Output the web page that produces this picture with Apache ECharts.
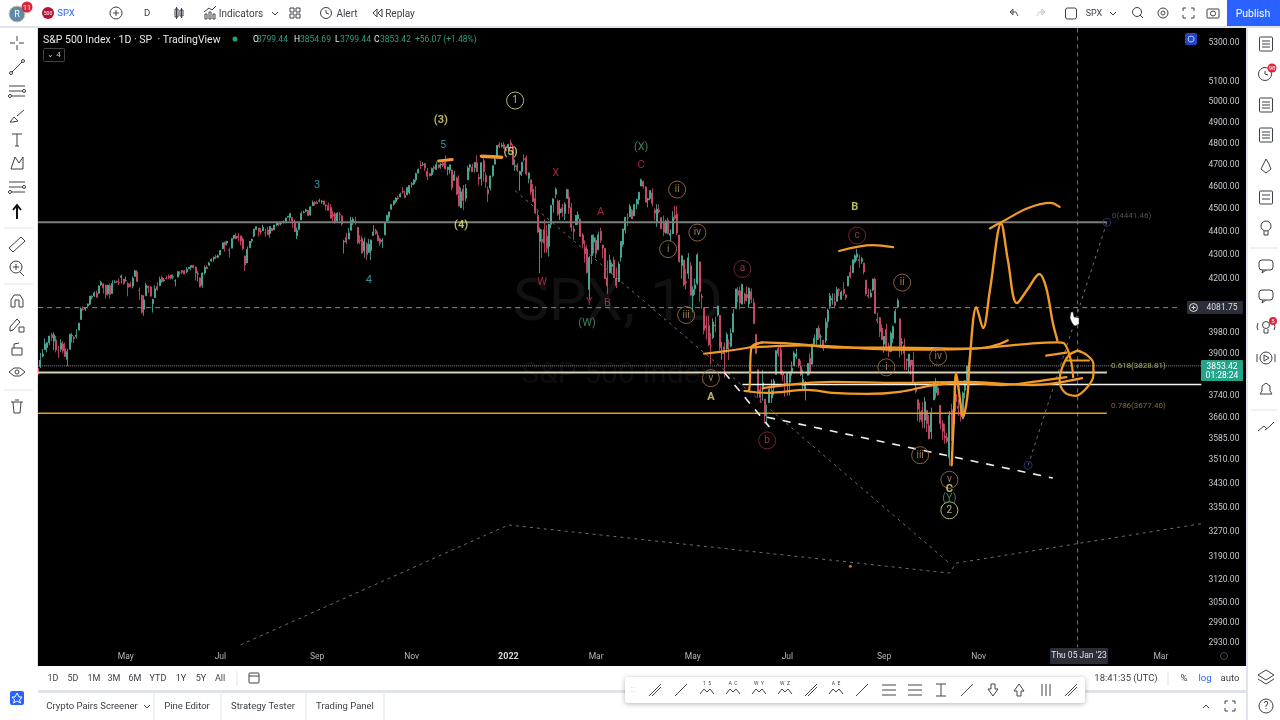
<!DOCTYPE html>
<html>
<head>
<meta charset="utf-8">
<style>html,body{margin:0;padding:0;background:#fff}#chart{width:1280px;height:720px}</style>
<script src="https://cdn.jsdelivr.net/npm/echarts@6/dist/echarts.min.js"></script>
</head>
<body>
<div id="chart"></div>
<script>
// daily bars, each row is open, close, low, high
const mar21 = [[3845,3821,3805,3881],[3851,3875,3845,3903],[3891,3899,3885,3918],[3915,3939,3915,3961],[3924,3943,3905,3944],[3943,3969,3933,3970],[3974,3963,3948,3982],[3949,3974,3914,3984],[3953,3915,3905,3969],[3913,3913,3884,3930],[3917,3941,3907,3957],[3938,3911,3902,3949],[3919,3889,3889,3943],[3879,3909,3853,3919],[3917,3975,3917,3978],[3969,3971,3944,3981],[3963,3959,3941,3969],[3967,3973,3959,3995]];
const apr21 = [[3992,4020,3992,4021],[4034,4077,4034,4083],[4075,4074,4069,4087],[4075,4080,4068,4083],[4089,4097,4084,4098],[4096,4129,4092,4129],[4124,4128,4114,4131],[4130,4142,4125,4148],[4141,4124,4122,4151],[4140,4170,4140,4173],[4175,4185,4170,4192],[4179,4163,4139,4180],[4173,4135,4119,4175],[4138,4173,4131,4176],[4171,4135,4118,4180],[4139,4180,4139,4194],[4186,4187,4181,4194],[4188,4187,4182,4193],[4186,4184,4174,4201],[4206,4211,4181,4218],[4199,4181,4174,4199]];
const may21 = [[4192,4192,4188,4209],[4180,4165,4128,4187],[4178,4168,4165,4188],[4170,4202,4160,4209],[4210,4233,4208,4238],[4229,4189,4188,4237],[4152,4152,4112,4163],[4131,4063,4057,4135],[4075,4113,4049,4132],[4130,4174,4130,4184],[4170,4163,4143,4170],[4166,4128,4127,4170],[4098,4116,4062,4117],[4122,4159,4122,4173],[4168,4156,4150,4186],[4171,4197,4171,4209],[4205,4188,4182,4213],[4192,4195,4188,4203],[4201,4200,4197,4213],[4210,4204,4199,4218]];
const jun21 = [[4216,4202,4197,4216],[4207,4208,4198,4218],[4191,4192,4168,4198],[4207,4229,4206,4233],[4227,4227,4214,4232],[4234,4227,4219,4237],[4233,4220,4219,4237],[4229,4239,4223,4249],[4242,4247,4240,4249],[4248,4255,4235,4255],[4256,4246,4243,4258],[4249,4223,4193,4252],[4220,4221,4188,4232],[4204,4166,4165,4204],[4173,4224,4163,4226],[4224,4247,4217,4255],[4249,4242,4241,4256],[4256,4266,4256,4271],[4274,4281,4272,4286],[4284,4291,4271,4292],[4293,4291,4282,4301],[4290,4297,4286,4302]];
const jul21 = [[4300,4319,4300,4321],[4326,4352,4326,4355],[4356,4343,4314,4356],[4351,4358,4340,4361],[4321,4320,4289,4331],[4329,4369,4329,4372],[4372,4384,4366,4386],[4381,4369,4368,4393],[4380,4374,4359,4393],[4382,4360,4340,4382],[4367,4327,4321,4375],[4296,4258,4233,4296],[4266,4323,4266,4336],[4331,4358,4329,4359],[4361,4367,4351,4369],[4381,4411,4375,4412],[4409,4422,4407,4422],[4416,4401,4379,4416],[4403,4400,4387,4416],[4404,4419,4404,4430],[4395,4395,4378,4413]];
const aug21 = [[4407,4387,4385,4422],[4392,4423,4374,4424],[4415,4403,4403,4416],[4408,4429,4408,4430],[4429,4437,4424,4441],[4437,4432,4424,4439],[4435,4436,4427,4445],[4440,4443,4436,4449],[4446,4460,4437,4461],[4464,4468,4461,4468],[4462,4480,4447,4481],[4462,4448,4417,4462],[4440,4400,4399,4454],[4382,4406,4368,4418],[4410,4442,4407,4444],[4451,4480,4451,4489],[4484,4486,4480,4493],[4490,4496,4486,4501],[4493,4470,4468,4495],[4474,4509,4469,4513],[4514,4529,4514,4538],[4529,4523,4515,4535]];
const sep21 = [[4529,4524,4522,4537],[4534,4537,4529,4546],[4532,4535,4522,4541],[4536,4520,4517,4536],[4518,4514,4493,4521],[4514,4493,4493,4529],[4506,4459,4458,4521],[4475,4469,4445,4492],[4479,4443,4435,4486],[4447,4481,4444,4486],[4477,4474,4447,4486],[4470,4433,4427,4471],[4355,4358,4306,4365],[4375,4355,4347,4394],[4368,4395,4367,4416],[4406,4449,4406,4466],[4439,4455,4429,4463],[4443,4443,4430,4465],[4419,4353,4346,4419],[4362,4360,4346,4385],[4370,4308,4307,4382]];
const oct21 = [[4317,4357,4288,4375],[4348,4301,4279,4355],[4310,4346,4310,4369],[4319,4364,4278,4366],[4383,4399,4383,4429],[4406,4391,4387,4413],[4385,4361,4359,4401],[4368,4350,4338,4374],[4358,4364,4329,4373],[4386,4438,4386,4440],[4447,4471,4447,4475],[4463,4487,4447,4488],[4498,4520,4498,4520],[4520,4537,4515,4537],[4533,4549,4525,4552],[4549,4545,4541,4560],[4553,4567,4552,4573],[4579,4575,4569,4598],[4562,4551,4548,4582],[4563,4596,4562,4597],[4573,4605,4565,4608]];
const nov21 = [[4610,4614,4596,4621],[4613,4631,4608,4635],[4630,4660,4620,4664],[4662,4680,4662,4683],[4699,4697,4681,4718],[4701,4702,4694,4714],[4707,4685,4672,4708],[4670,4647,4630,4685],[4659,4650,4648,4664],[4655,4683,4648,4688],[4689,4683,4665,4697],[4679,4701,4679,4715],[4701,4688,4684,4702],[4700,4704,4682,4708],[4708,4698,4690,4717],[4712,4682,4680,4744],[4679,4690,4652,4691],[4675,4701,4659,4702],[4677,4595,4585,4677],[4628,4655,4628,4672],[4640,4567,4561,4646]];
const dec21 = [[4602,4513,4511,4652],[4505,4577,4505,4596],[4589,4538,4495,4608],[4548,4592,4533,4612],[4631,4686,4631,4695],[4690,4701,4670,4705],[4691,4668,4667,4706],[4688,4712,4665,4713],[4710,4669,4667,4744],[4642,4635,4608,4660],[4636,4710,4606,4713],[4719,4669,4623,4731],[4652,4621,4595,4666],[4587,4568,4531,4601],[4594,4649,4583,4651],[4650,4697,4645,4697],[4703,4726,4703,4741],[4733,4791,4733,4792],[4795,4786,4778,4807],[4788,4793,4781,4804],[4795,4778,4776,4808],[4775,4766,4766,4786]];
const jan22 = [[4779,4797,4755,4797],[4804,4793,4776,4819],[4787,4701,4699,4797],[4693,4696,4672,4725],[4698,4677,4667,4708],[4656,4670,4582,4673],[4670,4713,4649,4714],[4729,4726,4715,4749],[4734,4659,4652,4745],[4638,4663,4615,4666],[4632,4577,4564,4632],[4589,4533,4531,4612],[4547,4483,4477,4602],[4471,4398,4395,4494],[4357,4410,4223,4418],[4367,4357,4287,4411],[4409,4350,4309,4454],[4380,4327,4309,4429],[4337,4432,4293,4432],[4432,4516,4415,4516]];
const feb22 = [[4519,4546,4484,4546],[4566,4589,4548,4596],[4535,4477,4470,4542],[4482,4500,4451,4540],[4505,4484,4466,4522],[4480,4521,4451,4531],[4547,4587,4547,4590],[4553,4504,4478,4588],[4506,4419,4401,4527],[4412,4401,4365,4426],[4430,4472,4430,4473],[4456,4475,4429,4490],[4456,4380,4377,4456],[4385,4349,4327,4395],[4332,4305,4268,4363],[4325,4226,4222,4342],[4156,4289,4114,4295],[4298,4385,4262,4385],[4355,4374,4307,4388]];
const mar22 = [[4363,4306,4287,4375],[4322,4387,4322,4401],[4401,4363,4351,4417],[4343,4329,4285,4343],[4328,4201,4199,4329],[4203,4171,4138,4277],[4224,4278,4224,4300],[4252,4260,4223,4268],[4279,4204,4203,4292],[4203,4173,4161,4247],[4188,4262,4188,4272],[4289,4358,4272,4358],[4345,4412,4335,4412],[4407,4463,4392,4465],[4462,4461,4425,4481],[4465,4512,4465,4522],[4494,4456,4456,4500],[4469,4520,4469,4520],[4522,4543,4499,4546],[4541,4575,4518,4576],[4603,4632,4603,4637],[4624,4602,4590,4628],[4599,4530,4530,4603]];
const apr22 = [[4540,4546,4507,4549],[4547,4583,4539,4583],[4572,4525,4513,4593],[4494,4481,4450,4503],[4446,4500,4421,4521],[4494,4488,4481,4520],[4462,4413,4411,4464],[4437,4397,4381,4471],[4394,4447,4392,4453],[4449,4392,4388,4461],[4385,4392,4359,4410],[4391,4462,4390,4490],[4472,4459,4451,4513],[4478,4394,4385,4513],[4385,4272,4267,4386],[4255,4296,4200,4299],[4279,4175,4169,4279],[4187,4183,4156,4240],[4222,4288,4200,4308],[4254,4132,4132,4270]];
const may22 = [[4130,4155,4063,4169],[4159,4175,4134,4200],[4181,4300,4174,4308],[4271,4147,4106,4271],[4128,4123,4077,4140],[4081,3991,3975,4081],[4010,4001,3955,4049],[4011,3935,3929,4050],[3930,3930,3859,3981],[3963,4024,3957,4039],[4013,4008,3983,4046],[4052,4088,4046,4090],[4051,3923,3912,4051],[3900,3901,3877,3946],[3927,3901,3810,3944],[3919,3974,3903,3982],[3942,3941,3875,3956],[3929,3979,3925,3999],[3984,4058,3984,4076],[4077,4158,4077,4158],[4151,4132,4104,4166]];
const jun22 = [[4150,4101,4074,4167],[4096,4177,4095,4177],[4137,4109,4096,4143],[4135,4121,4107,4169],[4097,4161,4080,4165],[4147,4116,4100,4160],[4102,4018,4018,4119],[3975,3901,3901,3975],[3839,3750,3734,3839],[3764,3735,3715,3778],[3765,3790,3723,3838],[3729,3667,3640,3729],[3675,3675,3637,3708],[3716,3765,3716,3780],[3733,3760,3715,3802],[3774,3796,3743,3805],[3821,3912,3821,3914],[3920,3900,3889,3928],[3913,3821,3820,3945],[3825,3819,3797,3837],[3786,3785,3738,3818]];
const jul22 = [[3781,3825,3742,3829],[3792,3831,3742,3832],[3831,3845,3816,3870],[3854,3903,3854,3910],[3889,3899,3880,3919],[3880,3855,3846,3880],[3851,3819,3815,3874],[3779,3802,3759,3839],[3764,3790,3724,3796],[3818,3863,3818,3863],[3883,3831,3819,3902],[3860,3937,3860,3939],[3936,3960,3930,3975],[3955,3999,3935,3999],[3999,3962,3953,4012],[3966,3967,3928,3976],[3953,3921,3911,3953],[3951,4024,3941,4040],[4026,4072,4000,4078],[4087,4130,4076,4141]];
const aug22 = [[4113,4119,4093,4141],[4105,4091,4080,4140],[4107,4155,4107,4167],[4155,4152,4128,4161],[4115,4145,4115,4152],[4156,4140,4130,4186],[4133,4122,4112,4137],[4170,4210,4170,4211],[4227,4208,4201,4257],[4225,4280,4225,4280],[4270,4297,4264,4302],[4290,4305,4276,4326],[4281,4275,4246,4302],[4273,4284,4262,4292],[4266,4228,4218,4266],[4195,4138,4130,4195],[4133,4128,4120,4160],[4126,4141,4122,4156],[4154,4199,4149,4200],[4198,4058,4057,4204],[4035,4030,4018,4062],[4041,3986,3965,4044],[4000,3955,3953,4015]];
const sep22 = [[3937,3967,3904,3970],[3994,3924,3908,4018],[3931,3908,3887,3943],[3909,3980,3906,3987],[3959,4006,3942,4010],[4022,4067,4018,4076],[4084,4110,4084,4119],[4037,3932,3885,4037],[3941,3946,3896,3961],[3932,3901,3838,3959],[3880,3873,3838,3880],[3849,3899,3828,3900],[3876,3856,3820,3876],[3875,3790,3789,3908],[3773,3757,3750,3790],[3727,3693,3648,3727],[3682,3655,3644,3716],[3686,3647,3623,3717],[3652,3719,3623,3737],[3688,3640,3610,3688],[3633,3586,3584,3671]];
const oct22 = [[3610,3679,3584,3698],[3726,3791,3726,3791],[3753,3783,3732,3807],[3771,3745,3742,3797],[3706,3640,3620,3706],[3640,3612,3582,3652],[3595,3589,3568,3640],[3590,3577,3570,3607],[3520,3669,3492,3685],[3690,3583,3578,3712],[3638,3677,3638,3686],[3746,3720,3686,3762],[3703,3695,3668,3728],[3689,3666,3647,3715],[3657,3752,3657,3757],[3762,3797,3732,3799],[3799,3853,3799,3855]];

// axes
const priceTicks = [5300,5100,5000,4900,4800,4700,4600,4500,4400,4300,4200,3980,3900,3740,3660,3585,3510,3430,3350,3270,3190,3120,3050,2990,2930];
const timeSlots = [39,81,124,166,209,248,291,333,376,418,499];
const timeNames = ['May','Jul','Sep','Nov','2022','Mar','May','Jul','Sep','Nov','Mar'];
const slotCount = 518;

// levels, as [bar, price]
const fibTop = [[0,4441.46],[475,4441.46]];
const fib618 = [[0,3828.81],[475,3828.81]];
const fib786 = [[0,3677.4],[475,3677.4]];
const lastPrice = [[0,3853.42],[517,3853.42]];
const whiteLevel = [[313,3783],[517,3783]];
const crossPrice = [[0,4081.75],[508,4081.75]];
const crossDate = [[462,5379],[462,2918]];
const thinTrend = [[212,4582],[405,3171]];
const thinChannel = [[90,2925],[209,3293],[405,3140],[408,3171],[517,3297]];
const fibLeg = [[440,3493],[475,4441]];
const whiteDashA = [[305,3828],[325,3628]];
const whiteDashB = [[324,3663],[451,3449]];
const fibAnchors = [[475,4441],[440,3493]];
const redDot = [[361,3161]];

// orange pen strokes, as [bar, price]
const penUpper = [[296,3900],[316,3924],[322,3944],[339,3936],[354,3924],[383,3924],[412,3920],[421,3924],[428,3940],[431,3952]];
const penUpper2 = [[317,3924],[340,3932],[383,3916],[416,3920],[442,3940],[453,3944],[456,3940],[459,3874],[460,3811]];
const penBoxLeft = [[322,3944],[317,3924],[316,3763],[314,3759]];
const penLower = [[314,3759],[324,3752],[342,3763],[353,3752],[368,3748],[383,3756],[398,3781],[413,3789],[428,3781],[442,3793],[457,3811]];
const penLower2 = [[322,3770],[353,3793],[383,3789],[413,3793],[442,3781],[464,3807]];
const penWave = [[406,3493],[407,3662],[408,3826],[410,3710],[411,3663],[413,3740],[414,3874],[417,4084],[420,4000],[423,4152],[428,4436],[431,4278],[435,4100],[440,4160],[445,4220],[448,4164],[451,4020],[453,3952]];
const penTop = [[423,4414],[428,4441],[440,4504],[450,4527],[454,4509]];
const penPeak = [[356,4317],[371,4342],[380,4333]];
const penCircle = [[462,3912],[466,3896],[469,3863],[469,3818],[466,3770],[461,3741],[456,3756],[454,3800],[455,3844],[458,3893],[462,3912]];
const penTickA = [[448,3893],[457,3904]];
const penTickB = [[457,3874],[467,3874]];
const penHighA = [[178,4718],[184,4725]];
const penHighB = [[197,4741],[206,4736]];

// wave labels, as [bar, price, text]
const wavesYellow = [[179,4911,'(3)'],[188,4426,'(4)'],[210,4757,'(5)'],[363,4509,'B'],[299,3736,'A'],[405,3412,'C']];
const wavesCyan = [[124,4605,'3'],[147,4192,'4'],[180,4790,'5']];
const wavesRed = [[230,4662,'X'],[250,4487,'A'],[224,4184,'W'],[245,4104,'Y'],[253,4100,'B'],[268,4700,'C']];
const wavesGreen = [[268,4782,'(X)'],[244,4020,'(W)'],[405,3381,'(Y)']];
const circledBrown = [[284,4587,'ii'],[293,4396,'iv'],[280,4325,'i'],[288,4052,'iii'],[299,3807,'v'],[400,3889,'iv'],[377,3848,'i'],[384,4184,'ii'],[392,3528,'iii'],[405,3443,'v']];
const circledRed = [[313,4241,'a'],[324,3580,'b'],[364,4383,'c']];
const circledMajor = [[212,5009,'1'],[405,3341,'2']];
const fibGrey = [[486,4470,'0(4441.46)']];
const fibYellow = [[489,3853,'0.618(3828.81)']];
const fibBrown = [[489,3703,'0.786(3677.40)']];

const topLeftIcons = [43,67,91,116,140,163,187,212,245,268,301,325,349,372,406];
const rightIcons = [44,74,105,135,166,197,228,266,296,327,358,389,427];
const rangeNames = [['1D',53],['5D',73],['1M',94],['3M',114],['6M',135],['YTD',158],['1Y',181],['5Y',201],['All',220]];
const drawSlots = [655,681,707,733,759,785,811,836,862,889,915,941,967,993,1019,1045,1071];
const drawTags = {707:'1  5',733:'A  C',759:'W  Y',785:'W  Z',836:'A  E'};

const FONT = 'Roboto, "Liberation Sans", sans-serif';
const INK = '#3c4048';
const ORANGE = '#f29a26';

var chart = echarts.init(document.getElementById('chart'), null, { renderer: 'canvas' });

var bars = [].concat(mar21, apr21, may21, jun21, jul21, aug21, sep21, oct21, nov21, dec21, jan22, feb22, mar22, apr22, may22, jun22, jul22, aug22, sep22, oct22);
var categories = [];
for (var i = 0; i < slotCount; i++) categories.push('');
timeSlots.forEach(function (s, k) { categories[s] = timeNames[k]; });

function level(data, color, width, type, z) {
  return {
    type: 'line', data: data, symbol: 'none', silent: true, z: z || 3, animation: false,
    lineStyle: { color: color, width: width, type: type || 'solid' }
  };
}
function pen(data, width) {
  var s = level(data, ORANGE, width || 2.2, 'solid', 6);
  s.smooth = 0.35;
  s.lineStyle.cap = 'round';
  return s;
}
function tags(data, color, size, ring, weight) {
  return {
    type: 'scatter', data: data, symbol: 'circle', symbolSize: ring ? 17 : 1, silent: true, z: 7, animation: false,
    itemStyle: { color: 'rgba(0,0,0,0)', borderColor: ring || 'rgba(0,0,0,0)', borderWidth: ring ? 1 : 0 },
    label: {
      show: true, position: 'inside', color: color, fontSize: size, fontFamily: FONT, fontWeight: weight || 'normal',
      formatter: function (p) { return p.value[2]; }
    }
  };
}

// chrome helpers
var ui = [];
function box(x, y, w, h, fill, stroke, r, z) {
  ui.push({ type: 'rect', z: z || 100, silent: true, shape: { x: x, y: y, width: w, height: h, r: r || 0 },
    style: { fill: fill || 'none', stroke: stroke || 'none', lineWidth: 1 } });
}
function dot(x, y, r, fill, stroke, z) {
  ui.push({ type: 'circle', z: z || 110, silent: true, shape: { cx: x, cy: y, r: r },
    style: { fill: fill || 'none', stroke: stroke || 'none', lineWidth: 1 } });
}
function pl(points, color, w, z) {
  ui.push({ type: 'polyline', z: z || 110, silent: true, shape: { points: points },
    style: { fill: 'none', stroke: color || INK, lineWidth: w || 1 } });
}
function tx(x, y, s, color, size, align, z, weight) {
  ui.push({ type: 'text', x: x, y: y + 1, z: z || 111, silent: true,
    style: { text: s, fill: color || INK, font: (weight || 'normal') + ' ' + (size || 10) + 'px ' + FONT,
      textAlign: align || 'center', textVerticalAlign: 'middle', align: align || 'center', verticalAlign: 'middle' } });
}
function chevron(x, y, up) { pl([[x - 3, y + (up ? 2 : -1)], [x, y + (up ? -1 : 2)], [x + 3, y + (up ? 2 : -1)]]); }

// panels
box(38, 28, 1208, 638, '#000', null, 0, -10);
box(0, 0, 1280, 26, '#fff');
box(0, 26, 1280, 2, '#e0e3eb');
box(0, 28, 37, 692, '#fff');
box(37, 28, 1, 638, '#e0e3eb');
box(1246, 28, 34, 692, '#fff');
box(1246, 28, 2, 692, '#e0e3eb');
box(38, 666, 1208, 24, '#fff');
box(38, 690, 1208, 3, '#e0e3eb');
box(38, 693, 1208, 27, '#fff');

// top bar
dot(17, 14, 8, '#5f8aa8', '#d9c9a0');
tx(17, 14, 'R', '#fff', 9);
dot(27, 7, 5.5, '#d8243c');
tx(27, 7, '11', '#fff', 7);
dot(48, 13, 6, '#b5123a');
tx(48, 13, '500', '#fff', 5);
tx(66, 13, 'SPX', '#2962ff', 9.5);
dot(116, 13, 6, null, INK);
pl([[113, 13], [119, 13]]); pl([[116, 10], [116, 16]]);
tx(147, 13, 'D', INK, 9.5);
box(175, 9, 3, 8, null, INK); box(180, 10, 3, 6, null, INK);
pl([[176.5, 7], [176.5, 19]]); pl([[181.5, 8], [181.5, 18]]);
box(205, 14, 2, 5, null, INK); box(209, 12, 2, 7, null, INK); box(213, 14, 2, 5, null, INK);
pl([[204, 12], [209, 8], [212, 10], [216, 6]]);
tx(241, 13, 'Indicators', INK, 10);
chevron(275, 13);
box(290, 8, 4, 4, null, INK); box(296, 8, 4, 4, null, INK); box(290, 14, 4, 4, null, INK); box(296, 14, 4, 4, null, INK);
dot(326, 13, 5.5, null, INK); pl([[326, 10], [326, 13], [329, 14]]);
tx(347, 13, 'Alert', INK, 10);
pl([[377, 9], [373, 13], [377, 17], [377, 9]]); pl([[382, 9], [378, 13], [382, 17], [382, 9]]);
tx(400, 13, 'Replay', INK, 10);
pl([[1010, 12], [1013, 9], [1013, 15], [1010, 12], [1016, 12], [1018, 16]], '#555');
pl([[1045, 12], [1042, 9], [1042, 15], [1045, 12], [1039, 12], [1037, 16]], '#c6c8ce');
box(1065.5, 8, 11, 11, null, INK, 2);
tx(1094, 13, 'SPX', INK, 9);
chevron(1113, 13);
dot(1137, 12, 4.5, null, INK); pl([[1140, 15], [1143, 18]]);
dot(1163, 13, 5, null, INK); dot(1163, 13, 2, null, INK);
pl([[1183, 11], [1183, 8], [1186, 8]]); pl([[1191, 8], [1194, 8], [1194, 11]]);
pl([[1183, 15], [1183, 18], [1186, 18]]); pl([[1191, 18], [1194, 18], [1194, 15]]);
box(1207, 9, 12, 9, null, INK, 1); dot(1213, 13.5, 2.5, null, INK);
box(1227, 0, 53, 26, '#2962ff');
tx(1253, 13, 'Publish', '#fff', 10.5);

// left tools
topLeftIcons.forEach(function (y, k) {
  var x = 17;
  if (k === 0) { pl([[x - 7, y], [x - 2, y]]); pl([[x + 2, y], [x + 7, y]]); pl([[x, y - 7], [x, y - 2]]); pl([[x, y + 2], [x, y + 7]]); }
  if (k === 1) { pl([[x - 6, y + 6], [x + 6, y - 6]]); dot(x - 6, y + 6, 1.5, '#fff', INK); dot(x + 6, y - 6, 1.5, '#fff', INK); }
  if (k === 2 || k === 6) { [-5, 0, 5].forEach(function (d) { pl([[x - 8, y + d], [x + 8, y + d]]); }); dot(x + 7, y, 1.5, '#fff', INK); dot(x - 7, y + 5, 1.5, '#fff', INK); }
  if (k === 3) { pl([[x - 7, y + 6], [x - 3, y + 1], [x + 1, y + 5], [x - 4, y + 6], [x - 7, y + 6]]); pl([[x, y], [x + 7, y - 6]]); }
  if (k === 4) { pl([[x - 5, y - 6], [x + 5, y - 6]]); pl([[x, y - 6], [x, y + 6]]); pl([[x - 2, y + 6], [x + 2, y + 6]]); }
  if (k === 5) { pl([[x - 6, y + 6], [x - 2, y - 6], [x + 2, y], [x + 6, y - 6], [x + 6, y + 6], [x - 6, y + 6]]); }
  if (k === 7) { pl([[x, y + 7], [x, y - 6]], '#111', 2); pl([[x - 4, y - 2], [x, y - 7], [x + 4, y - 2]], '#111', 2); }
  if (k === 8) { pl([[x - 8, y + 3], [x + 4, y - 8], [x + 8, y - 4], [x - 4, y + 7], [x - 8, y + 3]]); }
  if (k === 9) { dot(x - 1, y - 1, 6, null, INK); pl([[x - 4, y - 1], [x + 2, y - 1]]); pl([[x - 1, y - 4], [x - 1, y + 2]]); pl([[x + 3, y + 4], [x + 7, y + 8]]); }
  if (k === 10) { pl([[x - 6, y + 6], [x - 6, y - 1], [x - 3, y - 6], [x + 3, y - 6], [x + 6, y - 1], [x + 6, y + 6], [x + 2, y + 6], [x + 2, y - 1], [x - 2, y - 1], [x - 2, y + 6], [x - 6, y + 6]]); }
  if (k === 11) { pl([[x - 7, y + 6], [x - 7, y + 2], [x, y - 6], [x + 3, y - 3], [x - 4, y + 5], [x - 7, y + 6]]); box(x + 2, y + 2, 5, 5, null, INK, 0, 110); }
  if (k === 12) { box(x - 5, y - 1, 10, 7, null, INK, 0, 110); pl([[x - 3, y - 1], [x - 3, y - 5], [x + 2, y - 6]]); }
  if (k === 13) { pl([[x - 8, y], [x - 3, y - 4], [x + 3, y - 4], [x + 8, y], [x + 3, y + 4], [x - 3, y + 4], [x - 8, y]]); dot(x, y, 2, null, INK); }
  if (k === 14) { pl([[x - 6, y - 4], [x + 6, y - 4]]); pl([[x - 4, y - 4], [x - 3, y + 7], [x + 3, y + 7], [x + 4, y - 4]]); pl([[x - 2, y - 6], [x + 2, y - 6]]); }
});
[228, 284, 390].forEach(function (y) { pl([[4, y], [33, y]], '#e0e3eb'); });
box(10, 691, 14, 14, '#2962ff', null, 2, 105);
pl([[17, 693], [19, 697], [22, 697], [19.5, 700], [20.5, 703], [17, 701], [13.5, 703], [14.5, 700], [12, 697], [15, 697], [17, 693]], '#fff');

// right tools
rightIcons.forEach(function (y, k) {
  var x = 1266;
  if (k === 0 || k === 2 || k === 3) {
    box(x - 6.5, y - 7, 13, 14, null, INK, 1, 110);
    [-3, 0, 3].forEach(function (d) { pl([[x - 4, y + d], [x + 4, y + d]]); });
  }
  if (k === 1) { dot(x - 1, y, 6.5, null, INK); pl([[x - 1, y - 3], [x - 1, y], [x + 2, y + 1]]); dot(x + 6, y - 6, 4.5, '#e0243e'); tx(x + 6, y - 7, '98', '#fff', 6); }
  if (k === 4) { pl([[x - 5, y + 3], [x - 2, y - 3], [x, y - 7], [x + 3, y - 2], [x + 5, y + 3], [x, y + 7], [x - 5, y + 3]]); }
  if (k === 5) { box(x - 6.5, y - 6, 13, 13, null, INK, 1, 110); [-2, 2].forEach(function (d) { pl([[x - 4, y + d], [x + 4, y + d]], INK, 1); }); }
  if (k === 6) { dot(x, y - 2, 5, null, INK); pl([[x - 2, y + 3], [x - 2, y + 7], [x + 2, y + 7], [x + 2, y + 3]]); }
  if (k === 7 || k === 8) { box(x - 7, y - 6, 14, 10, null, INK, 3, 110); pl([[x - 3, y + 4], [x - 4, y + 7], [x, y + 4]]); }
  if (k === 9) { dot(x, y - 2, 3.5, null, INK); pl([[x - 2, y + 2], [x - 2, y + 6], [x + 2, y + 6], [x + 2, y + 2]]); pl([[x - 8, y - 4], [x - 9, y], [x - 8, y + 3]]); pl([[x + 8, y - 4], [x + 9, y], [x + 8, y + 3]]); dot(x + 7, y - 6, 4, '#e0243e'); tx(x + 7, y - 7, '5', '#fff', 6); }
  if (k === 10) { dot(x, y, 6, null, INK); pl([[x - 2, y - 3], [x + 3, y], [x - 2, y + 3], [x - 2, y - 3]]); pl([[x - 9, y - 4], [x - 9, y + 4]]); pl([[x + 9, y - 4], [x + 9, y + 4]]); }
  if (k === 11) { pl([[x - 6, y + 5], [x - 4, y + 2], [x - 4, y - 3], [x, y - 6], [x + 4, y - 3], [x + 4, y + 2], [x + 6, y + 5], [x - 6, y + 5]]); }
  if (k === 12) { pl([[x - 8, y + 4], [x - 2, y - 1], [x + 1, y + 2]]); pl([[x - 1, y + 3], [x + 3, y], [x + 8, y - 5]]); }
});
[248, 410].forEach(function (y) { pl([[1250, y], [1278, y]], '#e0e3eb'); });
pl([[1258, 675], [1266, 670], [1274, 675], [1266, 680], [1258, 675]]);
pl([[1258, 679], [1266, 684], [1274, 679]]);
dot(1266, 706, 7, null, INK);
tx(1266, 705, '?', INK, 10);

// range row and tabs
rangeNames.forEach(function (r) { tx(r[1], 677.5, r[0], INK, 9); });
pl([[237, 671], [237, 686]], '#e0e3eb');
box(249, 673, 10, 10, null, INK, 1, 110);
pl([[249, 676], [259, 676]]);
tx(92, 706, 'Crypto Pairs Screener', INK, 9.5);
chevron(147, 706);
tx(187, 706, 'Pine Editor', INK, 9.5);
tx(263, 706, 'Strategy Tester', INK, 9.5);
tx(345, 706, 'Trading Panel', INK, 9.5);
[154, 221, 306, 384].forEach(function (x) { pl([[x, 694], [x, 720]], '#e0e3eb'); });
tx(1126, 678, '18:41:35 (UTC)', INK, 9.5);
pl([[1168, 671], [1168, 686]], '#e0e3eb');
tx(1184, 678, '%', INK, 9.5);
tx(1205, 678, 'log', '#2962ff', 9.5);
tx(1230, 678, 'auto', INK, 9.5);
chevron(1206, 706, true);
pl([[1225, 704], [1225, 701], [1228, 701]]); pl([[1232, 701], [1235, 701], [1235, 704]]);
pl([[1225, 708], [1225, 711], [1228, 711]]); pl([[1232, 711], [1235, 711], [1235, 708]]);

// floating drawing bar
ui.push({ type: 'rect', z: 120, silent: true, shape: { x: 625, y: 677, width: 460, height: 26, r: 3 },
  style: { fill: '#fff', shadowBlur: 5, shadowColor: 'rgba(0,0,0,0.3)', shadowOffsetY: 1 } });
tx(633, 689, '::', '#c5c7cd', 9, 'center', 121);
drawSlots.forEach(function (x, k) {
  var y = 690, c = '#444';
  if (drawTags[x]) {
    pl([[x - 7, y + 4], [x - 3, y - 1], [x, y + 2], [x + 3, y - 1], [x + 7, y + 4]], c, 1, 121);
    tx(x, y - 7, drawTags[x], c, 5, 'center', 121);
  } else if (k === 9 || k === 10) {
    [-5, 0, 5].forEach(function (d) { pl([[x - 7, y + d], [x + 7, y + d]], c, 1, 121); });
  } else if (k === 14 || k === 13) {
    var s = k === 14 ? -1 : 1;
    pl([[x - 5, y - 1 * s], [x - 2, y - 1 * s], [x - 2, y - 6 * s], [x + 2, y - 6 * s], [x + 2, y - 1 * s], [x + 5, y - 1 * s], [x, y + 6 * s], [x - 5, y - 1 * s]], c, 1, 121);
  } else if (k === 15) {
    [-3, 1, 5].forEach(function (d) { pl([[x + d, y - 6], [x + d, y + 6]], c, 1, 121); });
  } else if (k === 11) {
    pl([[x - 5, y - 6], [x + 5, y - 6]], c, 1, 121); pl([[x - 5, y + 6], [x + 5, y + 6]], c, 1, 121); pl([[x, y - 6], [x, y + 6]], c, 1, 121);
  } else {
    pl([[x - 6, y + 6], [x + 6, y - 6]], c, 1, 121);
    if (k === 0 || k === 6 || k === 16) pl([[x - 3, y + 6], [x + 6, y - 3]], c, 1, 121);
  }
});

// chart header and tags inside the black pane
tx(43, 39, 'S&P 500 Index · 1D · SP  · TradingView', '#e8e8e8', 10.5, 'left', 20);
dot(235, 39, 2.5, '#1fa37c', null, 20);
[['O', 253], ['3799.44', 257], ['H', 294], ['3854.69', 300], ['L', 335], ['3799.44', 340], ['C', 374], ['3853.42', 380]].forEach(function (p, k) {
  tx(p[1], 39, p[0], k % 2 ? '#2f9e83' : '#e8e8e8', 8.5, 'left', 20);
});
tx(415, 39, '+56.07 (+1.48%)', '#2f9e83', 8.5, 'left', 20);
box(43.5, 48.5, 21, 13, null, '#444', 1, 20);
tx(54, 54, '⌄ 4', '#ccc', 8, 'center', 20);
box(1185, 33, 12, 12, '#2445c8', null, 2, 20);
dot(1191, 39, 3, null, '#b9c6f5', 21);
box(1187, 301, 56, 13, '#2a2e39', null, 1, 20);
dot(1193.5, 307.5, 4, null, '#ddd', 21);
pl([[1191.5, 307.5], [1195.5, 307.5]], '#ddd', 1, 21);
pl([[1193.5, 305.5], [1193.5, 309.5]], '#ddd', 1, 21);
tx(1222, 307, '4081.75', '#ddd', 8.5, 'center', 21);
box(1201, 360, 42, 21, '#23a58c', null, 1, 20);
tx(1222, 365.5, '3853.42', '#fff', 8.5, 'center', 21);
tx(1222, 374.5, '01:28:24', '#fff', 8.5, 'center', 21);
box(1050, 648, 58, 16, '#2a2e39', null, 1, 20);
tx(1079, 655, "Thu 05 Jan '23", '#e0e0e0', 8.5, 'center', 21);
dot(1224, 656, 3.5, null, '#4a4e58', 20);
ui.push({ type: 'polygon', z: 30, silent: true,
  shape: { points: [[1071, 312], [1073, 312], [1074, 317], [1079, 318], [1079, 324], [1075, 326], [1072, 323], [1070, 318]] },
  style: { fill: '#fff', stroke: '#333', lineWidth: 0.5 } });
tx(618, 304, 'SPX, 1D', '#111', 60, 'center', -5);
tx(618, 374, 'S&P 500 Index', '#0d0d0d', 30, 'center', -5);

var option = {
  backgroundColor: '#fff',
  animation: false,
  grid: { left: 37, top: 28.4, width: 1165.5, height: 619, containLabel: false },
  xAxis: {
    type: 'category', data: categories, boundaryGap: true,
    axisLine: { show: false }, axisTick: { show: false }, splitLine: { show: false },
    axisLabel: {
      interval: function (idx) { return categories[idx] !== ''; },
      hideOverlap: false, margin: 5, color: '#b2b5be', fontSize: 8.5, fontFamily: FONT,
      formatter: function (v) { return v === '2022' ? '{b|2022}' : v; },
      rich: { b: { color: '#d8dae0', fontSize: 9, fontWeight: 'bold', fontFamily: FONT } }
    }
  },
  yAxis: {
    type: 'log', position: 'right', min: 2917.6, max: 5379, logBase: 10, scale: true,
    axisLine: { show: false }, axisTick: { show: false }, splitLine: { show: false }, minorTick: { show: false },
    axisLabel: {
      customValues: priceTicks, margin: 6, color: '#c8cad0', fontSize: 8.5, fontFamily: FONT, padding: [3, 0, 0, 0],
      formatter: function (v) { return Number(v).toFixed(2); }
    }
  },
  graphic: { elements: ui },
  series: [
    {
      type: 'candlestick', data: bars, barWidth: 1.6, silent: true, z: 2, animation: false,
      itemStyle: { color: '#4db8a2', color0: '#d9506e', borderColor: '#4db8a2', borderColor0: '#d9506e', borderWidth: 0.8 }
    },
    level(lastPrice, '#8f9499', 1, 'dotted'),
    level(crossPrice, '#8a8a8a', 1, [5, 4]),
    level(crossDate, '#777', 1, [4, 4]),
    level(thinTrend, '#6d6d6d', 1, [3, 4]),
    level(thinChannel, '#6d6d6d', 1, [3, 4]),
    level(fibLeg, '#6d6d6d', 1, [3, 4]),
    level(fibTop, '#7d7d7d', 2),
    level(fib618, '#d8d2b4', 2),
    level(fib786, '#e39a2d', 1.5),
    level(whiteLevel, '#f2f2f2', 1.5),
    level(whiteDashA, '#eee', 1.6, [8, 8]),
    level(whiteDashB, '#eee', 1.6, [8, 8]),
    pen(penUpper), pen(penUpper2), pen(penBoxLeft), pen(penLower), pen(penLower2),
    pen(penWave, 2.4), pen(penTop), pen(penPeak), pen(penCircle), pen(penTickA), pen(penTickB),
    pen(penHighA, 3), pen(penHighB, 3.5),
    tags(wavesYellow, '#e3e27c', 11, null, 'bold'),
    tags(wavesCyan, '#3fb6c6', 11),
    tags(wavesRed, '#c9304e', 11),
    tags(wavesGreen, '#4fa06f', 11),
    tags(circledBrown, '#c69766', 10, '#a8794e'),
    tags(circledRed, '#c2404f', 10, '#8f2d3a'),
    tags(circledMajor, '#dfe58e', 10, '#dfe58e'),
    tags(fibGrey, '#666', 8),
    tags(fibYellow, '#cdd46a', 8),
    tags(fibBrown, '#a5814f', 8),
    {
      type: 'scatter', data: fibAnchors, symbol: 'circle', symbolSize: 8, silent: true, z: 7, animation: false,
      itemStyle: { color: 'rgba(0,0,0,0)', borderColor: '#2b3a8f', borderWidth: 1 }
    },
    {
      type: 'scatter', data: redDot, symbol: 'circle', symbolSize: 3, silent: true, z: 7, animation: false,
      itemStyle: { color: ORANGE }
    }
  ]
};
chart.setOption(option);
</script>
</body>
</html>
